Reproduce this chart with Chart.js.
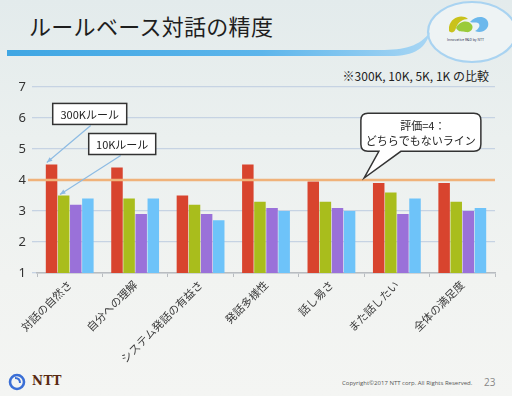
<!DOCTYPE html>
<html><head><meta charset="utf-8">
<script src="https://cdn.jsdelivr.net/npm/chart.js@4"></script>
<style>
html,body{margin:0;padding:0;}
body{width:512px;height:396px;position:relative;overflow:hidden;
background:linear-gradient(180deg,#e3ebec 0%,#ebf0ef 35%,#f1f3f1 70%,#f4f5f3 100%);
font-family:"Noto Sans CJK JP","Noto Sans",sans-serif;}
#title{position:absolute;left:29px;top:9px;font-size:22px;color:#1e1e1e;letter-spacing:0.3px;white-space:nowrap;}
#sub{position:absolute;right:23px;top:67px;font-size:12px;color:#222;white-space:nowrap;}
#copy{position:absolute;left:342px;top:379px;font-size:6px;color:#555;font-family:"Open Sans",sans-serif;white-space:nowrap;}
#page{position:absolute;left:484px;top:375px;font-size:10px;color:#888;font-family:"Open Sans",sans-serif;}
#ntt{position:absolute;left:32px;top:374px;font-size:12px;font-weight:bold;color:#5a2a12;font-family:"DejaVu Serif",serif;letter-spacing:0.5px;}
#logotext{position:absolute;left:447px;top:37px;font-size:3.5px;color:#335;white-space:nowrap;}
canvas{position:absolute;left:0;top:0;}
svg{position:absolute;left:0;top:0;}
</style></head>
<body>
<svg width="512" height="396">
  <defs>
    <linearGradient id="lg" x1="0" x2="1" y1="0" y2="0">
      <stop offset="0" stop-color="#3fa6e3"/>
      <stop offset="0.6" stop-color="#5cb5eb"/>
      <stop offset="1" stop-color="#a8d6f4"/>
    </linearGradient>
  </defs>
  <ellipse cx="472" cy="32" rx="44" ry="30" fill="#eef3f4" stroke="#a9d3f1" stroke-width="2.2"/>
  <path d="M7 50 L380 50 C405 50 420 46 430 32 C426 48 415 56 390 56 L7 56 Z" fill="url(#lg)"/>
  <path d="M449 27 C451 17 462 14 468 19 C463 19 458 22 456 28 C455 32 452 34 449 31 Z" fill="#c9c21c"/>
  <path d="M456 28 C459 21 468 19 472 25 C474 29 470 33 466 32 C462 31 459 33 456 28 Z" fill="#9acb3a"/>
  <path d="M470 22 C476 15 486 16 488 22 C490 29 482 34 475 31 C479 29 481 25 478 23 C476 22 473 23 470 22 Z" fill="#6cb8ec"/>
  <circle cx="17" cy="382" r="7" fill="none" stroke="#3b6fd6" stroke-width="2.6"/>
  <path d="M15 378 Q20 378 20 383" fill="none" stroke="#3b6fd6" stroke-width="2"/>
</svg>
<div id="logotext">Innovative R&amp;D by NTT</div>
<div id="title">ルールベース対話の精度</div>
<div id="sub">※300K, 10K, 5K, 1K の比較</div>
<div id="ntt">NTT</div>
<div id="copy">Copyright©2017 NTT corp. All Rights Reserved.</div>
<div id="page">23</div>
<canvas id="c" width="512" height="396"></canvas>
<script>
const categories = ["対話の自然さ","自分への理解","システム発話の有益さ","発話多様性","話し易さ","また話したい","全体の満足度"];
const seriesNames = ["300K","10K","5K","1K"];
const values300K = [4.5, 4.4, 3.5, 4.5, 3.95, 3.9, 3.9];
const values10K  = [3.5, 3.4, 3.2, 3.3, 3.3, 3.6, 3.3];
const values5K   = [3.2, 2.9, 2.9, 3.1, 3.1, 2.9, 3.0];
const values1K   = [3.4, 3.4, 2.7, 3.0, 3.0, 3.4, 3.1];
const yTicks = [1,2,3,4,5,6,7];
const neutralLine = 4;
const colors = ["#d8442e","#a9bd1c","#9a71d9","#6ec3f9"];

const overlay = {
  id:'overlay',
  afterDatasetsDraw(chart){
    const ctx = chart.ctx, a = chart.chartArea;
    const xs = chart.scales.x, ys = chart.scales.y;
    const yl = ys.getPixelForValue(neutralLine);
    ctx.save();
    ctx.strokeStyle = "#f0b27a"; ctx.lineWidth = 2.5;
    ctx.beginPath(); ctx.moveTo(a.left-9, yl); ctx.lineTo(a.right, yl); ctx.stroke();

    const font = '11px "Noto Sans CJK JP", sans-serif';
    function box(x, y, w, h, text){
      ctx.fillStyle = "#ffffff"; ctx.strokeStyle = "#333"; ctx.lineWidth = 1.5;
      ctx.fillRect(x, y, w, h); ctx.strokeRect(x, y, w, h);
      ctx.fillStyle = "#222"; ctx.font = font; ctx.textAlign = "center"; ctx.textBaseline = "middle";
      ctx.fillText(text, x + w/2, y + h/2 + 0.5);
    }
    function arrow(x1, y1, x2, y2){
      ctx.strokeStyle = "#8dbbe3"; ctx.fillStyle = "#8dbbe3"; ctx.lineWidth = 1.2;
      ctx.beginPath(); ctx.moveTo(x1, y1); ctx.lineTo(x2, y2); ctx.stroke();
      const ang = Math.atan2(y2-y1, x2-x1), L = 6;
      ctx.beginPath(); ctx.moveTo(x2, y2);
      ctx.lineTo(x2 - L*Math.cos(ang-0.4), y2 - L*Math.sin(ang-0.4));
      ctx.lineTo(x2 - L*Math.cos(ang+0.4), y2 - L*Math.sin(ang+0.4));
      ctx.closePath(); ctx.fill();
    }
    const b0 = chart.getDatasetMeta(0).data[0];
    const b1 = chart.getDatasetMeta(1).data[0];
    const x0 = xs.getPixelForValue(0);
    const bx1 = x0 - 17, by1 = ys.getPixelForValue(6.47);
    arrow(bx1 + 38, by1 + 22, b0.x - b0.width/2 + 1, b0.y - 2);
    box(bx1, by1, 74, 21, "300Kルール");
    const bx2 = x0 + 19, by2 = ys.getPixelForValue(5.5);
    arrow(bx2 + 32, by2 + 22, b1.x - b1.width/2 + 2, b1.y - 1);
    box(bx2, by2, 67, 21, "10Kルール");

    const sx = xs.getPixelForValue(4.45), sy = ys.getPixelForValue(6.15);
    const sw = 120, sh = 38, r = 7;
    const tipX = xs.getPixelForValue(4.5), tipY = yl - 2;
    ctx.fillStyle = "#ffffff"; ctx.strokeStyle = "#333"; ctx.lineWidth = 1.5;
    ctx.beginPath();
    ctx.moveTo(sx + r, sy);
    ctx.lineTo(sx + sw - r, sy); ctx.quadraticCurveTo(sx+sw, sy, sx+sw, sy+r);
    ctx.lineTo(sx + sw, sy + sh - r); ctx.quadraticCurveTo(sx+sw, sy+sh, sx+sw-r, sy+sh);
    ctx.lineTo(sx + 40, sy + sh);
    ctx.lineTo(tipX, tipY);
    ctx.lineTo(sx + 18, sy + sh);
    ctx.lineTo(sx + r, sy + sh); ctx.quadraticCurveTo(sx, sy+sh, sx, sy+sh-r);
    ctx.lineTo(sx, sy + r); ctx.quadraticCurveTo(sx, sy, sx+r, sy);
    ctx.closePath(); ctx.fill(); ctx.stroke();
    ctx.fillStyle = "#222"; ctx.font = font; ctx.textAlign = "center"; ctx.textBaseline = "middle";
    ctx.fillText("評価=4：", sx + sw/2 + 2, sy + 12);
    ctx.fillText("どちらでもないライン", sx + sw/2, sy + 27);
    ctx.restore();
  }
};

new Chart(document.getElementById('c'), {
  type:'bar',
  data:{
    labels: categories,
    datasets:[
      {label:seriesNames[0], data:values300K, backgroundColor:colors[0]},
      {label:seriesNames[1], data:values10K, backgroundColor:colors[1]},
      {label:seriesNames[2], data:values5K, backgroundColor:colors[2]},
      {label:seriesNames[3], data:values1K, backgroundColor:colors[3]}
    ]
  },
  options:{
    responsive:false, animation:false,
    layout:{padding:{left:8, right:17, top:87, bottom:0}},
    datasets:{bar:{categoryPercentage:0.74, barPercentage:0.95}},
    plugins:{legend:{display:false}, tooltip:{enabled:false}},
    scales:{
      x:{
        offset:true,
        grid:{display:true, drawOnChartArea:false, offset:true, color:"#b8bcc0", tickLength:4},
        border:{color:"#b8bcc0", width:1.5},
        ticks:{minRotation:45, maxRotation:45, color:"#3a3a3a", padding:1,
          font:{family:'"Noto Sans CJK JP", sans-serif', size:11}},
        afterFit(s){ s.height = 123; }
      },
      y:{
        min:1, max:7,
        afterBuildTicks(s){ s.ticks = yTicks.map(v=>({value:v})); },
        grid:{color:"#c6d3e3", lineWidth:1.3, tickLength:5},
        border:{display:false},
        ticks:{color:"#333", padding:6, font:{family:'"Noto Sans", sans-serif', size:13}},
        afterFit(s){ s.width = 29; }
      }
    }
  },
  plugins:[overlay]
});
</script>
</body></html>
